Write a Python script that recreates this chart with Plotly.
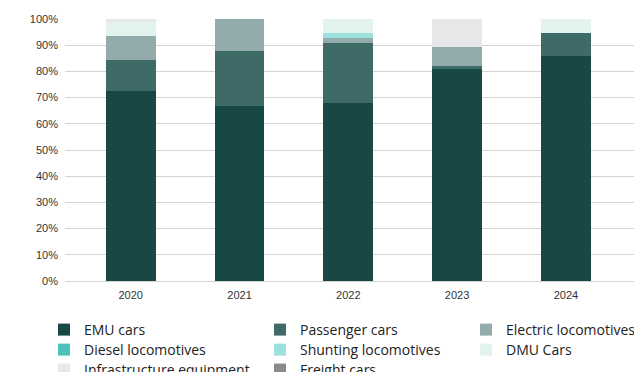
import plotly.graph_objects as go

years = ["2020", "2021", "2022", "2023", "2024"]
series_names = ["EMU cars", "Passenger cars", "Electric locomotives", "Diesel locomotives",
                "Shunting locomotives", "DMU Cars", "Infrastructure equipment", "Freight cars"]
emu_cars = [72.4, 66.9, 68.0, 81.1, 85.7]
passenger_cars = [12.1, 20.7, 22.8, 1.1, 8.8]
electric_locomotives = [8.9, 12.4, 1.9, 7.0, 0.0]
diesel_locomotives = [0.0, 0.0, 0.0, 0.0, 0.0]
shunting_locomotives = [0.0, 0.0, 1.8, 0.0, 0.0]
dmu_cars = [5.3, 0.0, 5.5, 0.0, 5.5]
infrastructure_equipment = [1.3, 0.0, 0.0, 10.8, 0.0]
freight_cars = [0.0, 0.0, 0.0, 0.0, 0.0]
y_ticks = [0, 10, 20, 30, 40, 50, 60, 70, 80, 90, 100]

values = [emu_cars, passenger_cars, electric_locomotives, diesel_locomotives,
          shunting_locomotives, dmu_cars, infrastructure_equipment, freight_cars]
colors = ["#184845", "#3e6b68", "#93abaa", "#4fc1bb", "#9ee0dd", "#e2f3ef", "#e6e7e8", "#888a8c"]

# legend grid: 3 columns filled row by row (pixel positions of each entry's box)
col_left_px = [44, 260, 466]
row_center_px = [330, 350, 370]

fig = go.Figure()
layout_legends = {}
legend_font = dict(family="Open Sans, sans-serif", size=14, color="#222222")
for i, (name, vals, col) in enumerate(zip(series_names, values, colors)):
    lid = "legend" if i == 0 else f"legend{i + 1}"
    fig.add_trace(go.Bar(x=years, y=vals, name=name, marker=dict(color=col, line=dict(width=0)),
                         width=0.457, legend=lid))
    r, c = divmod(i, 3)
    layout_legends[lid] = dict(
        orientation="v", xref="container", yref="container",
        x=col_left_px[c] / 634, y=1 - row_center_px[r] / 372,
        xanchor="left", yanchor="middle", font=legend_font,
        itemclick=False, bgcolor="rgba(0,0,0,0)", borderwidth=0)

fig.update_layout(
    barmode="stack",
    width=634, height=372,
    margin=dict(l=65, r=0, t=19, b=91, autoexpand=False),
    paper_bgcolor="white", plot_bgcolor="white",
    font=dict(family="Liberation Sans, Arial, sans-serif", size=11, color="#333333"),
    showlegend=True,
    xaxis=dict(type="category", range=[-0.604, 4.626], showgrid=False, showline=False,
               ticks="", ticklabelstandoff=6, tickfont=dict(size=11, color="#333333")),
    yaxis=dict(range=[0, 100], tickvals=y_ticks, ticktext=[f"{v}%" for v in y_ticks],
               showgrid=True, gridcolor="#d4d4d4", gridwidth=1, zeroline=True,
               zerolinecolor="#d4d4d4", zerolinewidth=1, showline=False, ticks="",
               ticklabelstandoff=6, tickfont=dict(size=11, color="#333333")),
    **layout_legends,
)

fig.write_html("out.html")
